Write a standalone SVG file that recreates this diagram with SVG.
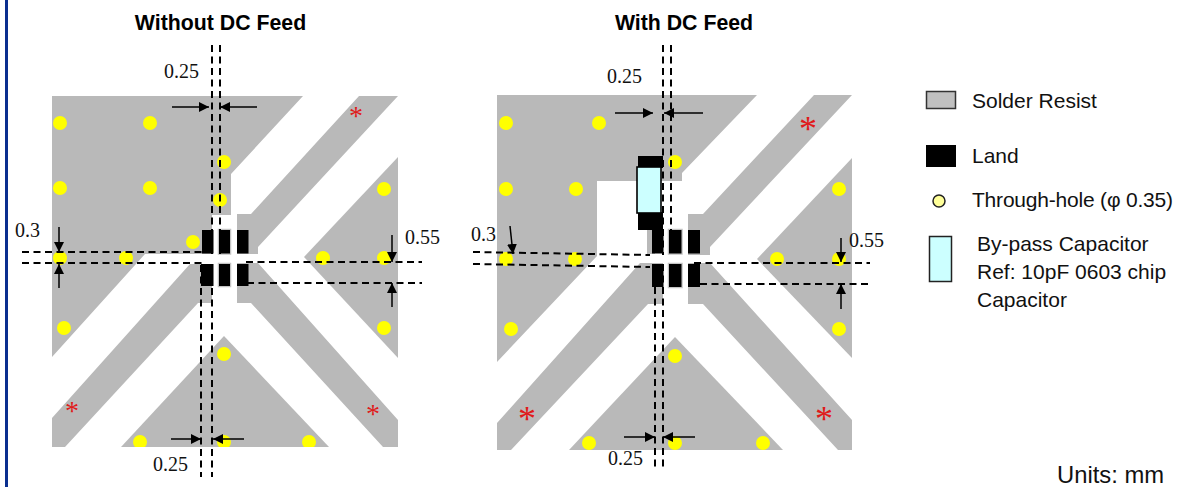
<svg xmlns="http://www.w3.org/2000/svg" width="1177" height="487" viewBox="0 0 1177 487">
<style>
.g{fill:#b9b9b9}
.p{fill:#000;stroke:#c4c4c4;stroke-width:2.5;paint-order:stroke}
.y{fill:#ffff00}
.d{fill:none;stroke:#000;stroke-width:2;stroke-dasharray:7 4.500}
.a{fill:none;stroke:#000;stroke-width:1.500;marker-end:url(#ah)}
.t{font-family:"Liberation Serif","Times New Roman",serif;font-size:20px;fill:#111}
.h{font-family:"Liberation Sans",Arial,sans-serif;font-size:21.300px;font-weight:bold;fill:#000;text-anchor:middle}
.l{font-family:"Liberation Sans",Arial,sans-serif;font-size:21px;fill:#111}
.s{font-family:"Liberation Serif","Times New Roman",serif;fill:#e01a1a;text-anchor:middle}
</style>
<defs>
<marker id="ah" markerUnits="userSpaceOnUse" markerWidth="11" markerHeight="11" refX="10" refY="5" orient="auto"><path d="M0,0L10,5L0,10Z" fill="#000"/></marker>
<clipPath id="cl"><rect x="52" y="96" width="346" height="351"/></clipPath>
</defs>
<rect width="1177" height="487" fill="#fff"/>
<rect x="5" y="0" width="3" height="487" fill="#0a2f8f"/>
<text class="h" x="220.500" y="30">Without DC Feed</text>
<text class="h" x="684" y="30">With DC Feed</text>

<g id="footprint-without-dc">
<g id="resist-left">
<path class="g" d="M52,96H303L231,174V215H212V254H145L52,357Z"/>
<path class="g" d="M190,264L52,418V447H65L198,303H212V264Z"/>
<path class="g" d="M359,96H398L258,247V254H237V214H251Z"/>
<path class="g" d="M237,263H258L398,420V447H383L251,303H237Z"/>
<path class="g" d="M398,157L304,257L398,358Z"/>
<path class="g" d="M224,336L121,447H329Z"/>
</g>
<g id="holes-left" clip-path="url(#cl)">
<circle class="y" cx="60" cy="123" r="7"/><circle class="y" cx="150" cy="123" r="7"/><circle class="y" cx="224" cy="162" r="7"/>
<circle class="y" cx="60" cy="188" r="7"/><circle class="y" cx="150" cy="188" r="7"/><circle class="y" cx="220" cy="200" r="7"/>
<circle class="y" cx="193" cy="242" r="7"/><circle class="y" cx="126" cy="258" r="7"/><circle class="y" cx="60" cy="258" r="7"/>
<circle class="y" cx="323" cy="258" r="7"/><circle class="y" cx="384" cy="258" r="7"/><circle class="y" cx="384" cy="189" r="7"/>
<circle class="y" cx="64" cy="328" r="7"/><circle class="y" cx="384" cy="328" r="7"/><circle class="y" cx="224" cy="354" r="7"/>
<circle class="y" cx="140" cy="442" r="7"/><circle class="y" cx="224" cy="442" r="7"/><circle class="y" cx="309" cy="442" r="7"/>
</g>
<g id="lands-left">
<rect x="202" y="230" width="11.500" height="23.500"/><rect class="p" x="219" y="230" width="11" height="23.500"/><rect x="237" y="230" width="11.500" height="23.500"/>
<rect x="201" y="264" width="12.500" height="22"/><rect class="p" x="219" y="264" width="11" height="22"/><rect x="237" y="264" width="11.500" height="22"/>
</g>
<g id="marks-left">
<text class="s" x="356" y="125" font-size="28">*</text>
<text class="s" x="72" y="420" font-size="28">*</text>
<text class="s" x="373" y="423" font-size="28">*</text>
</g>
</g>

<g id="footprint-with-dc">
<g id="resist-right">
<path class="g" d="M497,95H757L682,173V181H597V256L497,362Z"/>
<rect class="g" x="647" y="230" width="8" height="24"/>
<path class="g" d="M640,263L497,423V450H511L648,304H663V263Z"/>
<path class="g" d="M814,95H852L710,247V255H688V214H703Z"/>
<path class="g" d="M688,263H710L852,420V450H838L703,304H688Z"/>
<path class="g" d="M852,158L757,259L852,358Z"/>
<path class="g" d="M675,337L569,450H783Z"/>
</g>
<g id="holes-right">
<circle class="y" cx="506" cy="123" r="7"/><circle class="y" cx="599" cy="123" r="7"/><circle class="y" cx="675" cy="162" r="7"/>
<circle class="y" cx="506" cy="189" r="7"/><circle class="y" cx="576" cy="189" r="7"/>
<circle class="y" cx="506" cy="259" r="7"/><circle class="y" cx="575" cy="259" r="7"/>
<circle class="y" cx="777" cy="259" r="7"/><circle class="y" cx="839" cy="259" r="7"/><circle class="y" cx="839" cy="189" r="7"/>
<circle class="y" cx="511" cy="329" r="7"/><circle class="y" cx="839" cy="329" r="7"/><circle class="y" cx="675" cy="356" r="7"/>
<circle class="y" cx="589" cy="443" r="7"/><circle class="y" cx="675" cy="443" r="7"/><circle class="y" cx="763" cy="443" r="7"/>
</g>
<g id="lands-right">
<rect x="652" y="230" width="11.500" height="23.500"/><rect class="p" x="669" y="230" width="12.500" height="23.500"/><rect x="688" y="230" width="12" height="23.500"/>
<rect x="652" y="264" width="11.500" height="23"/><rect class="p" x="669" y="264" width="12.500" height="23"/><rect x="688" y="264" width="12" height="23"/>
<rect x="638" y="156" width="25" height="12"/><rect x="638" y="212" width="25" height="18"/>
</g>
<g id="capacitor">
<rect x="637" y="167" width="24" height="46" fill="#ccffff" stroke="#000" stroke-width="1.600"/>
</g>
<g id="marks-right">
<text class="s" x="808" y="141" font-size="36">*</text>
<text class="s" x="527" y="431" font-size="36">*</text>
<text class="s" x="824" y="431" font-size="36">*</text>
</g>
</g>

<g id="connectors">
<path class="d" d="M212,45V254M220,45V254M201,265V477M212,265V477"/>
<path class="d" d="M22,252H205M22,263H205M246,262H422M247,283H422"/>
<path class="a" d="M172,107H209"/><path class="a" d="M257,107H220"/>
<path class="a" d="M171,439H201"/><path class="a" d="M244,439H213"/>
<path class="a" d="M59,227V252"/><path class="a" d="M59,288V264"/>
<path class="a" d="M392,235V262"/><path class="a" d="M392,307V283"/>
<path class="d" d="M663,45V255M671,45V230M655,264V468M663,264V468"/>
<path class="d" d="M473,252L650,255M473,264L650,267M694,263H870M700,284H870"/>
<path class="a" d="M615,113H653"/><path class="a" d="M703,113H664"/>
<path class="a" d="M624,437H655"/><path class="a" d="M695,437H663"/>
<path class="a" d="M510,226L513,254"/>
<path class="a" d="M841,238V262"/><path class="a" d="M841,309V284"/>
</g>

<g id="dimensions">
<text class="t" x="164" y="78">0.25</text>
<text class="t" x="153" y="471">0.25</text>
<text class="t" x="15" y="237">0.3</text>
<text class="t" x="405" y="244">0.55</text>
<text class="t" x="607" y="83">0.25</text>
<text class="t" x="608" y="465">0.25</text>
<text class="t" x="471" y="241">0.3</text>
<text class="t" x="849" y="247">0.55</text>
</g>

<g id="legend">
<g id="legend-resist"><rect x="926.500" y="91.500" width="29" height="17" fill="#c0c0c0" stroke="#333" stroke-width="1.500"/><text class="l" x="972" y="108">Solder Resist</text></g>
<g id="legend-land"><rect x="926" y="145" width="30" height="22" fill="#000"/><text class="l" x="972" y="163">Land</text></g>
<g id="legend-hole"><circle cx="939" cy="201" r="6" fill="#ffff99" stroke="#222" stroke-width="1.500"/><text class="l" x="972" y="207" textLength="201">Through-hole (φ 0.35)</text></g>
<g id="legend-cap"><rect x="929.500" y="236.500" width="22" height="45" fill="#ccffff" stroke="#222" stroke-width="1.500"/>
<text class="l" x="977" y="251">By-pass Capacitor</text><text class="l" x="977" y="279">Ref: 10pF 0603 chip</text><text class="l" x="977" y="307">Capacitor</text></g>
</g>
<text id="units" class="l" x="1057" y="483" style="font-size:23.800px">Units: mm</text>
</svg>
